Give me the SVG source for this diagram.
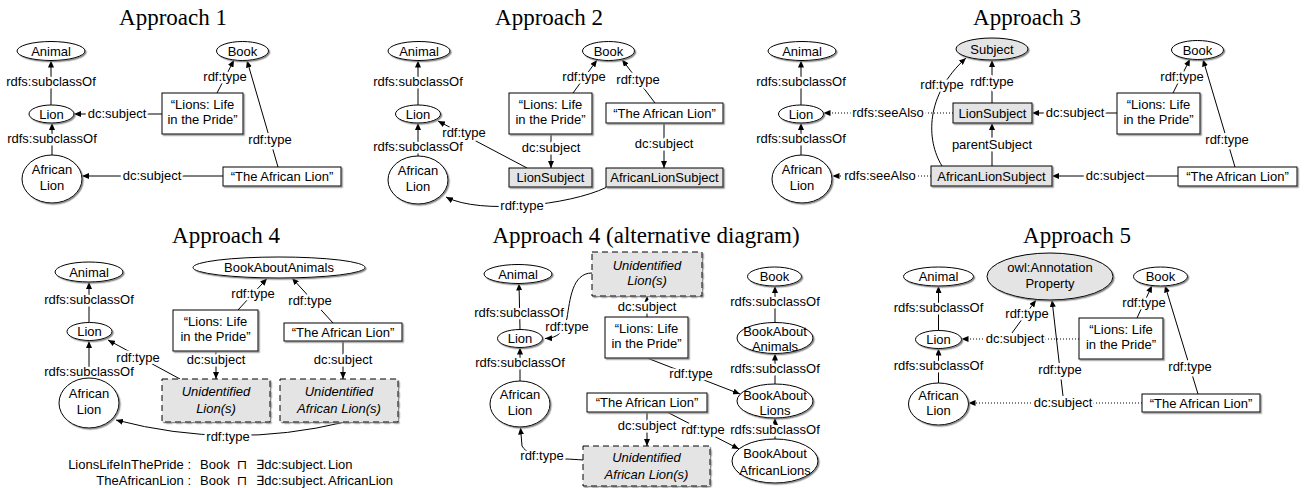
<svg xmlns="http://www.w3.org/2000/svg" width="1306" height="488" viewBox="0 0 1306 488">
<defs>
<filter id="sh" x="-10%" y="-10%" width="130%" height="140%">
<feDropShadow dx="1.3" dy="1.3" stdDeviation="0.5" flood-color="#808080" flood-opacity="0.9"/>
</filter>
<marker id="ah" viewBox="0 0 7 6" refX="7" refY="3" markerWidth="7" markerHeight="6" orient="auto" markerUnits="userSpaceOnUse">
<path d="M0,0 L7,3 L0,6 Z" fill="#000"/>
</marker>
</defs>
<style>
.n{fill:#fff;stroke:#000;stroke-width:1;filter:url(#sh)}
.g{fill:#e4e4e4}
.d{stroke-dasharray:6 4}
text{font-family:"Liberation Sans","DejaVu Sans",sans-serif;font-size:13px;text-anchor:middle;fill:#000}
.i{font-style:italic}
.ti{font-family:"Liberation Serif","DejaVu Serif",serif;font-size:23px}
.e{fill:none;stroke:#000;stroke-width:1;marker-end:url(#ah)}
.o{stroke-dasharray:1 2}
.lb{paint-order:stroke;stroke:#fff;stroke-width:5px;stroke-linejoin:round}
.st{text-anchor:start}
.en{text-anchor:end}
</style>
<rect width="1306" height="488" fill="#fff"/>

<!-- titles -->
<text class="ti" x="173" y="25">Approach 1</text>
<text class="ti" x="549" y="25">Approach 2</text>
<text class="ti" x="1027" y="25">Approach 3</text>
<text class="ti" x="226" y="243">Approach 4</text>
<text class="ti" x="646" y="243">Approach 4 (alternative diagram)</text>
<text class="ti" x="1077" y="243">Approach 5</text>

<g id="connectors">
<!-- Approach 1 -->
<path class="e" d="M51,105 L51,60.5"/>
<path class="e" d="M52,155 L52,123"/>
<path class="e" d="M162,114 L74,114"/>
<path class="e" d="M217,93 L234,60"/>
<path class="e" d="M278,167 L247,60.5"/>
<path class="e" d="M223,176 L82,176"/>
<text class="lb" x="51" y="86">rdfs:subclassOf</text>
<text class="lb" x="52" y="143">rdfs:subclassOf</text>
<text class="lb" x="117" y="118">dc:subject</text>
<text class="lb" x="225" y="81">rdf:type</text>
<text class="lb" x="270" y="144">rdf:type</text>
<text class="lb" x="152" y="180">dc:subject</text>

<!-- Approach 2 -->
<path class="e" d="M418,105 L418,60.5"/>
<path class="e" d="M418,156 L418,123"/>
<path class="e" d="M551,134 L551,168"/>
<path class="e" d="M664,123 L664,168"/>
<path class="e" d="M573,93 L597,60"/>
<path class="e" d="M655,103 L622,59.5"/>
<path class="e" d="M527,168 L438,121"/>
<path class="e" d="M606,187.5 C570,205 480,215 446,197"/>
<text class="lb" x="418" y="86">rdfs:subclassOf</text>
<text class="lb" x="418" y="151">rdfs:subclassOf</text>
<text class="lb" x="464" y="137">rdf:type</text>
<text class="lb" x="551" y="152">dc:subject</text>
<text class="lb" x="664" y="148">dc:subject</text>
<text class="lb" x="584" y="81">rdf:type</text>
<text class="lb" x="638" y="84">rdf:type</text>
<text class="lb" x="522" y="210">rdf:type</text>

<!-- Approach 3 -->
<path class="e" d="M801,105 L801,60.5"/>
<path class="e" d="M801,155 L801,123"/>
<path class="e o" d="M953,113 L823.5,113"/>
<path class="e o" d="M931,176 L832.5,176"/>
<path class="e" d="M992,103 L992,60"/>
<path class="e" d="M992,166 L992,123"/>
<path class="e" d="M942,166 C926,140 925,95 966,58"/>
<path class="e" d="M1117,113 L1032,113"/>
<path class="e" d="M1178,176 L1052,176"/>
<path class="e" d="M1173,93 L1190,59"/>
<path class="e" d="M1235,167 L1203,59.5"/>
<text class="lb" x="801" y="86">rdfs:subclassOf</text>
<text class="lb" x="801" y="143">rdfs:subclassOf</text>
<text class="lb" x="888" y="117">rdfs:seeAlso</text>
<text class="lb" x="880" y="180">rdfs:seeAlso</text>
<text class="lb" x="992" y="86">rdf:type</text>
<text class="lb" x="992" y="149">parentSubject</text>
<text class="lb" x="942" y="89">rdf:type</text>
<text class="lb" x="1075" y="117">dc:subject</text>
<text class="lb" x="1115" y="180">dc:subject</text>
<text class="lb" x="1182" y="81">rdf:type</text>
<text class="lb" x="1227" y="144">rdf:type</text>

<!-- Approach 4 -->
<path class="e" d="M89,322.5 L89,282"/>
<path class="e" d="M89,378 L89,341"/>
<path class="e" d="M180,379 L108,340"/>
<path class="e" d="M345,422 Q230,450 116,420"/>
<path class="e" d="M238,310 L267,278.5"/>
<path class="e" d="M333,323 L292,278"/>
<path class="e" d="M216,351 L216,379"/>
<path class="e" d="M343,341 L343,379"/>
<text class="lb" x="89" y="304">rdfs:subclassOf</text>
<text class="lb" x="89" y="376">rdfs:subclassOf</text>
<text class="lb" x="138" y="362">rdf:type</text>
<text class="lb" x="228" y="441">rdf:type</text>
<text class="lb" x="253" y="298">rdf:type</text>
<text class="lb" x="310" y="305">rdf:type</text>
<text class="lb" x="216" y="364">dc:subject</text>
<text class="lb" x="343" y="364">dc:subject</text>

<!-- Approach 4 alternative -->
<path class="e" d="M520,329.5 L519,283.5"/>
<path class="e" d="M520,381 L520,347.5"/>
<path class="e" d="M592,273 C572,273 570,300 567,318 C564,332 558,338 545,338.5"/>
<path class="e" d="M583,460 C560,458 530,460 522,446 L520.5,427.5"/>
<path class="e" d="M647,317 L647,296"/>
<path class="e" d="M647,412 L647,446"/>
<path class="e" d="M647,358 L740,394"/>
<path class="e" d="M667,412 L739,449"/>
<path class="e" d="M775,322.5 L775,286"/>
<path class="e" d="M775,384 L775,353.5"/>
<path class="e" d="M775,439 L775,418"/>
<text class="lb" x="519" y="317">rdfs:subclassOf</text>
<text class="lb" x="520" y="367">rdfs:subclassOf</text>
<text class="lb" x="567" y="331">rdf:type</text>
<text class="lb" x="542" y="460">rdf:type</text>
<text class="lb" x="647" y="311">dc:subject</text>
<text class="lb" x="647" y="430">dc:subject</text>
<text class="lb" x="691" y="378">rdf:type</text>
<text class="lb" x="703" y="434">rdf:type</text>
<text class="lb" x="775" y="306">rdfs:subclassOf</text>
<text class="lb" x="775" y="373">rdfs:subclassOf</text>
<text class="lb" x="775" y="434">rdfs:subclassOf</text>

<!-- Approach 5 -->
<path class="e" d="M938.5,330.5 L938.5,286"/>
<path class="e" d="M938.5,383 L938.5,348.5"/>
<path class="e o" d="M1079,339 L961.5,339"/>
<path class="e o" d="M1142,403 L968.5,403"/>
<path class="e" d="M1012,333 L1036,300"/>
<path class="e" d="M1063,396 L1052,300"/>
<path class="e" d="M1137,318 L1152,285.5"/>
<path class="e" d="M1198,394 L1165,285.5"/>
<text class="lb" x="938.5" y="312">rdfs:subclassOf</text>
<text class="lb" x="938.5" y="370">rdfs:subclassOf</text>
<text class="lb" x="1015" y="343">dc:subject</text>
<text class="lb" x="1063" y="407">dc:subject</text>
<text class="lb" x="1027" y="318">rdf:type</text>
<text class="lb" x="1060" y="374">rdf:type</text>
<text class="lb" x="1144" y="307">rdf:type</text>
<text class="lb" x="1190" y="371">rdf:type</text>
</g>

<!-- Approach 1 nodes -->
<g id="a1-animal"><ellipse class="n" cx="51" cy="51" rx="34" ry="9.5"/><text x="51" y="55.5">Animal</text></g>
<g id="a1-book"><ellipse class="n" cx="242.5" cy="51" rx="26" ry="9.5"/><text x="242.5" y="55.5">Book</text></g>
<g id="a1-lion"><ellipse class="n" cx="51.5" cy="114" rx="22.5" ry="9"/><text x="51.5" y="118.5">Lion</text></g>
<g id="a1-african-lion"><ellipse class="n" cx="52" cy="179" rx="30" ry="24"/><text x="52" y="174">African</text><text x="52" y="190">Lion</text></g>
<g id="a1-lions-life"><rect class="n" x="162" y="93" width="81" height="41"/><text x="202.5" y="108.5">“Lions: Life</text><text x="202.5" y="123.5">in the Pride”</text></g>
<g id="a1-the-african-lion"><rect class="n" x="223" y="167" width="118" height="19"/><text x="282" y="181">“The African Lion”</text></g>

<!-- Approach 2 nodes -->
<g id="a2-animal"><ellipse class="n" cx="419" cy="51" rx="31" ry="9.5"/><text x="419" y="55.5">Animal</text></g>
<g id="a2-book"><ellipse class="n" cx="608.5" cy="51" rx="26" ry="9.5"/><text x="608.5" y="55.5">Book</text></g>
<g id="a2-lion"><ellipse class="n" cx="418" cy="114" rx="22.5" ry="9"/><text x="418" y="118.5">Lion</text></g>
<g id="a2-african-lion"><ellipse class="n" cx="418" cy="180" rx="30" ry="24"/><text x="418" y="175">African</text><text x="418" y="191">Lion</text></g>
<g id="a2-lions-life"><rect class="n" x="509" y="93" width="83" height="41"/><text x="550.5" y="108.5">“Lions: Life</text><text x="550.5" y="123.5">in the Pride”</text></g>
<g id="a2-the-african-lion"><rect class="n" x="606" y="103" width="117" height="20"/><text x="664.5" y="117.5">“The African Lion”</text></g>
<g id="a2-lion-subject"><rect class="n g" x="509" y="168" width="83" height="19"/><text x="550.5" y="182">LionSubject</text></g>
<g id="a2-african-lion-subject"><rect class="n g" x="606" y="168" width="117" height="19"/><text x="664.5" y="182">AfricanLionSubject</text></g>

<!-- Approach 3 nodes -->
<g id="a3-animal"><ellipse class="n" cx="802" cy="51" rx="34" ry="9.5"/><text x="802" y="55.5">Animal</text></g>
<g id="a3-lion"><ellipse class="n" cx="801" cy="114" rx="22.5" ry="9"/><text x="801" y="118.5">Lion</text></g>
<g id="a3-african-lion"><ellipse class="n" cx="802" cy="179" rx="30" ry="24"/><text x="802" y="174">African</text><text x="802" y="190">Lion</text></g>
<g id="a3-subject"><ellipse class="n g" cx="992" cy="49" rx="36" ry="11"/><text x="992" y="53.5">Subject</text></g>
<g id="a3-book"><ellipse class="n" cx="1197.5" cy="50" rx="26" ry="9.5"/><text x="1197.5" y="54.5">Book</text></g>
<g id="a3-lion-subject"><rect class="n g" x="953" y="103" width="79" height="20"/><text x="992.5" y="117.5">LionSubject</text></g>
<g id="a3-african-lion-subject"><rect class="n g" x="931" y="166" width="121" height="20"/><text x="991.5" y="180.5">AfricanLionSubject</text></g>
<g id="a3-lions-life"><rect class="n" x="1117" y="93" width="83" height="41"/><text x="1158.5" y="108.5">“Lions: Life</text><text x="1158.5" y="123.5">in the Pride”</text></g>
<g id="a3-the-african-lion"><rect class="n" x="1178" y="167" width="119" height="19"/><text x="1237.5" y="181">“The African Lion”</text></g>

<!-- Approach 4 nodes -->
<g id="a4-animal"><ellipse class="n" cx="89" cy="272" rx="34" ry="10"/><text x="89" y="276.5">Animal</text></g>
<g id="a4-lion"><ellipse class="n" cx="89.5" cy="331.5" rx="22.5" ry="9"/><text x="89.5" y="336">Lion</text></g>
<g id="a4-african-lion"><ellipse class="n" cx="89" cy="403" rx="30" ry="25"/><text x="89" y="398">African</text><text x="89" y="414">Lion</text></g>
<g id="a4-book-about-animals"><ellipse class="n" cx="279" cy="267.5" rx="86" ry="10.5"/><text x="279" y="272">BookAboutAnimals</text></g>
<g id="a4-lions-life"><rect class="n" x="173" y="310" width="85" height="41"/><text x="215.5" y="326">“Lions: Life</text><text x="215.5" y="341">in the Pride”</text></g>
<g id="a4-the-african-lion"><rect class="n" x="284" y="323" width="118" height="18"/><text x="343" y="336.5">“The African Lion”</text></g>
<g id="a4-unidentified-lions"><rect class="n g d" x="162" y="379" width="108" height="43"/><text class="i" x="216" y="396">Unidentified</text><text class="i" x="216" y="413">Lion(s)</text></g>
<g id="a4-unidentified-african-lions"><rect class="n g d" x="280" y="379" width="118" height="43"/><text class="i" x="339" y="396">Unidentified</text><text class="i" x="339" y="413">African Lion(s)</text></g>
<text class="en" x="191" y="469">LionsLifeInThePride :</text>
<text class="st" y="469"><tspan x="200">Book</tspan><tspan x="237">⊓</tspan><tspan x="256">∃dc:subject.</tspan><tspan x="328">Lion</tspan></text>
<text class="en" x="191" y="485">TheAfricanLion :</text>
<text class="st" y="485"><tspan x="200">Book</tspan><tspan x="237">⊓</tspan><tspan x="256">∃dc:subject.</tspan><tspan x="328">AfricanLion</tspan></text>

<!-- Approach 4 alternative nodes -->
<g id="a4b-animal"><ellipse class="n" cx="518" cy="274" rx="34" ry="9.5"/><text x="518" y="278.5">Animal</text></g>
<g id="a4b-lion"><ellipse class="n" cx="520" cy="338.5" rx="22.5" ry="9"/><text x="520" y="343">Lion</text></g>
<g id="a4b-african-lion"><ellipse class="n" cx="520" cy="404" rx="30" ry="23"/><text x="520" y="399">African</text><text x="520" y="415">Lion</text></g>
<g id="a4b-unidentified-lions"><rect class="n g d" x="592" y="252" width="110" height="44"/><text class="i" x="647" y="269.5">Unidentified</text><text class="i" x="647" y="285">Lion(s)</text></g>
<g id="a4b-lions-life"><rect class="n" x="605" y="317" width="83" height="41"/><text x="646.5" y="332.5">“Lions: Life</text><text x="646.5" y="347.5">in the Pride”</text></g>
<g id="a4b-the-african-lion"><rect class="n" x="587" y="393" width="120" height="19"/><text x="647" y="407">“The African Lion”</text></g>
<g id="a4b-unidentified-african-lions"><rect class="n g d" x="583" y="446" width="127" height="40"/><text class="i" x="646.5" y="461.5">Unidentified</text><text class="i" x="646.5" y="478.5">African Lion(s)</text></g>
<g id="a4b-book"><ellipse class="n" cx="774.5" cy="276.5" rx="27" ry="9.5"/><text x="774.5" y="281">Book</text></g>
<g id="a4b-book-about-animals"><ellipse class="n" cx="775" cy="338" rx="38" ry="15.5"/><text x="775" y="336">BookAbout</text><text x="775" y="351">Animals</text></g>
<g id="a4b-book-about-lions"><ellipse class="n" cx="775" cy="401" rx="38" ry="17"/><text x="775" y="399.5">BookAbout</text><text x="775" y="414.5">Lions</text></g>
<g id="a4b-book-about-african-lions"><ellipse class="n" cx="775" cy="461" rx="43" ry="22"/><text x="775" y="458">BookAbout</text><text x="775" y="475">AfricanLions</text></g>

<!-- Approach 5 nodes -->
<g id="a5-animal"><ellipse class="n" cx="938.5" cy="276.5" rx="35" ry="9.5"/><text x="938.5" y="281">Animal</text></g>
<g id="a5-lion"><ellipse class="n" cx="938.5" cy="339.5" rx="23" ry="9"/><text x="938.5" y="344">Lion</text></g>
<g id="a5-african-lion"><ellipse class="n" cx="938.5" cy="404" rx="30" ry="21"/><text x="938.5" y="400">African</text><text x="938.5" y="415">Lion</text></g>
<g id="a5-annotation-property"><ellipse class="n g" cx="1050" cy="276.5" rx="63" ry="23.5"/><text x="1050" y="271.5">owl:Annotation</text><text x="1050" y="287.5">Property</text></g>
<g id="a5-book"><ellipse class="n" cx="1160.5" cy="276.5" rx="27" ry="9.5"/><text x="1160.5" y="281">Book</text></g>
<g id="a5-lions-life"><rect class="n" x="1079" y="318" width="84" height="41"/><text x="1121" y="333.5">“Lions: Life</text><text x="1121" y="348.5">in the Pride”</text></g>
<g id="a5-the-african-lion"><rect class="n" x="1142" y="394" width="118" height="18"/><text x="1201" y="407.5">“The African Lion”</text></g>
</svg>
